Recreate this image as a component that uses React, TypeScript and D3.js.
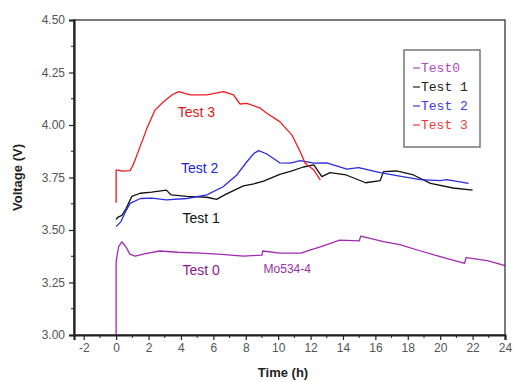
import React, { useRef, useEffect } from 'react';
import * as d3 from 'd3';

// [time (h), voltage (V)]
const test0 = [
  [0, 3.0], [0, 3.35], [0.15, 3.42], [0.35, 3.444], [0.6, 3.42], [0.85, 3.385], [1.17, 3.376],
  [1.8, 3.388], [2.7, 3.4], [3.8, 3.394], [5.2, 3.39], [6.5, 3.384], [7.85, 3.376],
  [9.0, 3.38], [9.05, 3.4], [10.1, 3.39], [11.4, 3.39], [12.0, 3.405], [12.6, 3.42],
  [13.8, 3.452], [15.0, 3.448], [15.1, 3.471], [16.5, 3.445], [17.5, 3.43], [18.8, 3.4],
  [20.0, 3.373], [21.5, 3.341], [21.6, 3.368], [22.9, 3.354], [23.9, 3.333], [24, 3.33],
];
const test1 = [
  [0, 3.55], [0.1, 3.56], [0.35, 3.57], [0.6, 3.6], [0.97, 3.66], [1.48, 3.675], [2.2, 3.68],
  [3.1, 3.69], [3.4, 3.667], [4.36, 3.66], [5.6, 3.656], [6.2, 3.646], [6.7, 3.667],
  [7.3, 3.69], [7.86, 3.71], [8.5, 3.72], [9.1, 3.733], [10.1, 3.765], [10.8, 3.78],
  [11.56, 3.8], [12.2, 3.81], [12.7, 3.754], [13.2, 3.773], [14.2, 3.762], [15.4, 3.725],
  [16.3, 3.735], [16.5, 3.778], [17.3, 3.781], [18.35, 3.762], [19.4, 3.722], [20.8, 3.7],
  [22.0, 3.69],
];
const test2 = [
  [0, 3.516], [0.3, 3.54], [0.6, 3.59], [0.86, 3.627], [1.5, 3.65], [2.2, 3.652],
  [3.1, 3.643], [4.36, 3.65], [5.6, 3.667], [6.6, 3.706], [7.45, 3.762], [8.07, 3.825],
  [8.5, 3.865], [8.8, 3.878], [9.3, 3.862], [10.1, 3.82], [10.74, 3.818], [11.36, 3.83],
  [12.2, 3.818], [13.0, 3.82], [14.24, 3.79], [14.96, 3.797], [16.3, 3.773], [17.5, 3.757],
  [18.77, 3.74], [20.0, 3.735], [20.4, 3.74], [21.75, 3.722],
];
const test3 = [
  [0, 3.63], [0, 3.786], [0.4, 3.78], [0.86, 3.783], [1.05, 3.81], [1.48, 3.897],
  [1.9, 3.984], [2.4, 4.071], [2.92, 4.111], [3.44, 4.143], [3.85, 4.159], [4.57, 4.143],
  [5.6, 4.143], [6.62, 4.159], [7.24, 4.143], [7.65, 4.1], [8.07, 4.103], [8.9, 4.08],
  [9.3, 4.056], [10.1, 4.016], [10.85, 3.952], [11.36, 3.873], [11.67, 3.818],
  [12.2, 3.786], [12.6, 3.738],
];

const seriesNames = ['Test0', 'Test 1', 'Test 2', 'Test 3'];
const seriesColors = ['#a02ab0', '#111111', '#2a2ae0', '#ee1c1c'];
const legendColors = ['#b048c0', '#222222', '#3a3ae6', '#f03a3a'];

const xTicks = [-2, 0, 2, 4, 6, 8, 10, 12, 14, 16, 18, 20, 22, 24];
const yTicks = [3.0, 3.25, 3.5, 3.75, 4.0, 4.25, 4.5];

const annotations = [
  { text: 'Test 3', t: 3.8, v: 4.038, color: '#e01818', size: 14 },
  { text: 'Test 2', t: 4.0, v: 3.771, color: '#2424d8', size: 14 },
  { text: 'Test 1', t: 4.1, v: 3.533, color: '#111111', size: 14 },
  { text: 'Test 0', t: 4.1, v: 3.288, color: '#8c1890', size: 14 },
  { text: 'Mo534-4', t: 9.1, v: 3.295, color: '#9a30a8', size: 12 },
];

const App = () => {
  const svgRef = useRef(null);

  useEffect(() => {
    const width = 513;
    const height = 382;
    const margin = { left: 74, top: 20, right: 8, bottom: 47 };

    const svg = d3.select(svgRef.current)
      .attr('width', width)
      .attr('height', height);
    svg.selectAll('*').remove();

    const x = d3.scaleLinear().domain([-2.6, 24]).range([margin.left, width - margin.right]);
    const y = d3.scaleLinear().domain([3.0, 4.5]).range([height - margin.bottom, margin.top]);

    const line = d3.line()
      .x(d => x(d[0]))
      .y(d => y(d[1]));

    [test0, test1, test2, test3].forEach((data, i) => {
      svg.append('path')
        .datum(data)
        .attr('d', line)
        .attr('fill', 'none')
        .attr('stroke', seriesColors[i])
        .attr('stroke-width', 1.3)
        .attr('stroke-linejoin', 'round');
    });

    // frame
    const x0 = x.range()[0], x1 = x.range()[1];
    const y0 = y.range()[0], y1 = y.range()[1];
    svg.append('rect')
      .attr('x', x0).attr('y', y1)
      .attr('width', x1 - x0).attr('height', y0 - y1)
      .attr('fill', 'none').attr('stroke', '#333').attr('stroke-width', 1.3);

    // axes
    const xAxis = svg.append('g')
      .attr('transform', `translate(0,${y0})`)
      .call(d3.axisBottom(x).tickValues(xTicks).tickSize(5).tickPadding(3).tickFormat(d => String(d)));
    xAxis.append('g')
      .selectAll('line')
      .data(d3.range(-1, 24, 2))
      .enter()
      .append('line')
      .attr('x1', d => x(d)).attr('x2', d => x(d))
      .attr('y1', 0).attr('y2', 3)
      .attr('stroke', '#222');

    const yAxis = svg.append('g')
      .attr('transform', `translate(${x0},0)`)
      .call(d3.axisLeft(y).tickValues(yTicks).tickSize(5).tickPadding(4).tickFormat(d => d.toFixed(2)));
    yAxis.append('g')
      .selectAll('line')
      .data(d3.range(3.125, 4.5, 0.25))
      .enter()
      .append('line')
      .attr('x1', 0).attr('x2', -3)
      .attr('y1', d => y(d)).attr('y2', d => y(d))
      .attr('stroke', '#222');

    [xAxis, yAxis].forEach(ax => {
      ax.select('.domain').attr('stroke', '#222').attr('stroke-width', 2.2);
      ax.selectAll('.tick line').attr('stroke', '#222').attr('stroke-width', 1.2);
      ax.selectAll('.tick text')
        .attr('fill', '#555')
        .style('font-family', 'Arial, "Liberation Sans", sans-serif')
        .style('font-size', '12px');
    });

    // axis titles
    svg.append('text')
      .attr('transform', `translate(22,${(y0 + y1) / 2}) rotate(-90)`)
      .attr('text-anchor', 'middle')
      .style('font-family', 'Arial, "Liberation Sans", sans-serif')
      .style('font-weight', 'bold')
      .style('font-size', '13px')
      .attr('fill', '#222')
      .text('Voltage (V)');
    svg.append('text')
      .attr('x', 283).attr('y', 377)
      .attr('text-anchor', 'middle')
      .style('font-family', 'Arial, "Liberation Sans", sans-serif')
      .style('font-weight', 'bold')
      .style('font-size', '13px')
      .attr('fill', '#222')
      .text('Time (h)');

    // in-plot labels
    svg.selectAll('text.ann')
      .data(annotations)
      .enter()
      .append('text')
      .attr('class', 'ann')
      .attr('x', d => x(d.t))
      .attr('y', d => y(d.v))
      .attr('fill', d => d.color)
      .style('font-family', 'Arial, "Liberation Sans", sans-serif')
      .style('font-size', d => `${d.size}px`)
      .text(d => d.text);

    // legend
    const legend = svg.append('g').attr('transform', 'translate(404,50)');
    legend.append('rect')
      .attr('width', 76).attr('height', 97)
      .attr('fill', '#fff').attr('stroke', '#777').attr('stroke-width', 1.5);
    const items = legend.selectAll('g.item')
      .data(seriesNames)
      .enter()
      .append('g')
      .attr('class', 'item')
      .attr('transform', (d, i) => `translate(9,${18 + i * 19})`);
    items.append('line')
      .attr('x1', 0).attr('x2', 7)
      .attr('stroke', (d, i) => legendColors[i])
      .attr('stroke-width', 1.2);
    items.append('text')
      .attr('x', 8).attr('y', 4)
      .attr('fill', (d, i) => legendColors[i])
      .style('font-family', '"Liberation Mono", "DejaVu Sans Mono", monospace')
      .style('font-size', '13px')
      .text(d => d);
  }, []);

  return <svg ref={svgRef} style={{ position: 'absolute', left: 0, top: 0 }}></svg>;
};

export default App;
